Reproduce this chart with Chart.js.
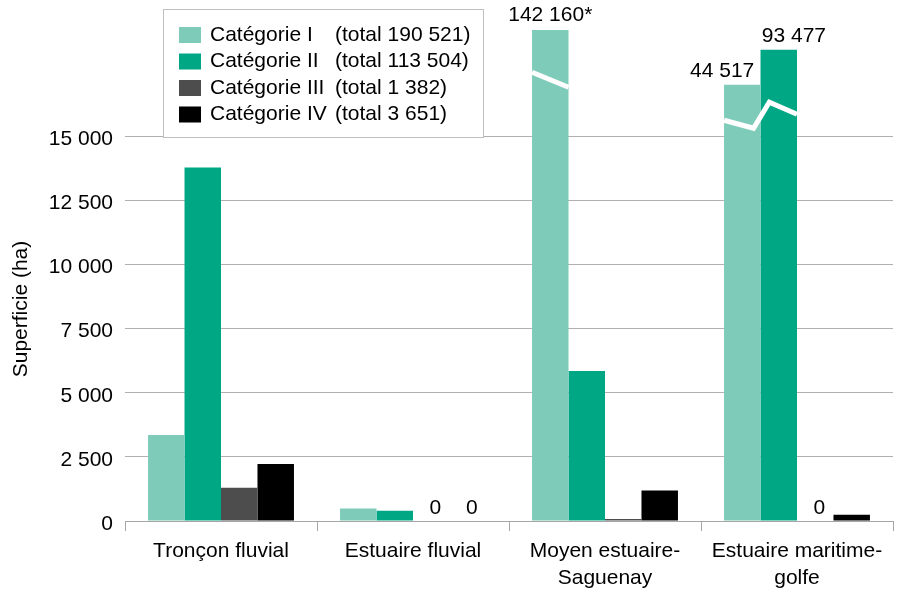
<!DOCTYPE html>
<html><head><meta charset="utf-8">
<script src="https://cdn.jsdelivr.net/npm/chart.js@4.4.1/dist/chart.umd.min.js"></script>
<style>html,body{margin:0;padding:0;background:#fff;}</style>
</head><body>
<canvas id="c" width="901" height="592"></canvas>
<script>
// ---- data ----
const categories = [['Tronçon fluvial'], ['Estuaire fluvial'], ['Moyen estuaire-', 'Saguenay'], ['Estuaire maritime-', 'golfe']];
const seriesNames = ['Catégorie I', 'Catégorie II', 'Catégorie III', 'Catégorie IV'];
const seriesTotals = ['(total 190 521)', '(total 113 504)', '(total 1 382)', '(total 3 651)'];
const catI = [3356, 488, 142160, 44517];
const catII = [13780, 400, 5847, 93477];
const catIII = [1300, 0, 82, 0];
const catIV = [2220, 0, 1190, 241];
const notesI = ['', '', '*', ''];
const notesII = ['', '', '', ''];
const notesIII = ['', '', '', ''];
const notesIV = ['', '', '', ''];
const yTicks = [0, 2500, 5000, 7500, 10000, 12500, 15000];
const yTitle = 'Superficie (ha)';
const colors = ['#7fcbb9', '#00a785', '#4d4d4d', '#000000'];

// ---- broken axis scale ----
const BREAK_AT = 15000, BREAK_K = 4240;
class BrokenLinearScale extends Chart.LinearScale {
  compress(v) { return v > BREAK_AT ? BREAK_AT + BREAK_K * Math.log10(v / BREAK_AT) : v; }
  getPixelForValue(v) { return super.getPixelForValue(this.compress(v)); }
}
BrokenLinearScale.id = 'brokenLinear';
BrokenLinearScale.defaults = Chart.LinearScale.defaults;
Chart.register(BrokenLinearScale);

const FONT = "'Liberation Sans', Arial, sans-serif";
const FS = 21;
Chart.defaults.font.family = FONT;
Chart.defaults.color = '#000';

const fmt = v => String(v).replace(/\B(?=(\d{3})+(?!\d))/g, ' ');

const seriesData = [catI, catII, catIII, catIV];
const seriesNotes = [notesI, notesII, notesIII, notesIV];

// break shapes by number of broken bars in a category: [x in bar widths from first broken bar's left, dy from break pixel]
const breakShapes = {
  1: [[0, -64], [1, -49]],
  2: [[0, -16], [0.81, -8], [1.24, -34], [2, -22]]
};

const overlayPlugin = {
  id: 'overlay',
  afterDatasetsDraw(chart) {
    const ctx = chart.ctx;
    const yScale = chart.scales.y;
    const yBreak = yScale.getPixelForValue(BREAK_AT);
    // break lines
    for (let j = 0; j < categories.length; j++) {
      const broken = [];
      chart.data.datasets.forEach((ds, i) => {
        if (ds.data[j] > BREAK_AT) broken.push(chart.getDatasetMeta(i).data[j]);
      });
      if (!broken.length) continue;
      const shape = breakShapes[broken.length];
      const b0 = broken[0];
      const left = b0.x - b0.width / 2;
      ctx.save();
      ctx.strokeStyle = '#ffffff';
      ctx.lineWidth = 5;
      ctx.lineJoin = 'miter';
      ctx.beginPath();
      shape.forEach(([fx, dy], k) => {
        const px = left + fx * b0.width, py = yBreak + dy;
        if (k === 0) ctx.moveTo(px, py); else ctx.lineTo(px, py);
      });
      ctx.stroke();
      ctx.restore();
    }
    // value labels
    ctx.save();
    ctx.font = FS + 'px ' + FONT;
    ctx.fillStyle = '#000';
    ctx.textBaseline = 'middle';
    for (let j = 0; j < categories.length; j++) {
      const brokenIdx = [];
      chart.data.datasets.forEach((ds, i) => { if (ds.data[j] > BREAK_AT) brokenIdx.push(i); });
      chart.data.datasets.forEach((ds, i) => {
        const v = ds.data[j];
        const bar = chart.getDatasetMeta(i).data[j];
        if (v === 0) {
          ctx.textAlign = 'center';
          ctx.fillText('0', bar.x + 4, bar.base - 13);
        } else if (v > BREAK_AT) {
          const txt = fmt(v) + seriesNotes[i][j];
          if (brokenIdx.length > 1) {
            if (i === brokenIdx[0]) { ctx.textAlign = 'right'; ctx.fillText(txt, bar.x + 12, bar.y - 14); }
            else { ctx.textAlign = 'left'; ctx.fillText(txt, bar.x - 17, bar.y - 14); }
          } else {
            ctx.textAlign = 'center';
            ctx.fillText(txt, bar.x, bar.y - 15);
          }
        }
      });
    }
    ctx.restore();
  },
  afterDraw(chart) {
    const ctx = chart.ctx;
    // y title
    ctx.save();
    ctx.font = FS + 'px ' + FONT;
    ctx.fillStyle = '#000';
    ctx.translate(21, 309);
    ctx.rotate(-Math.PI / 2);
    ctx.textAlign = 'center';
    ctx.textBaseline = 'middle';
    ctx.fillText(yTitle, 0, 0);
    ctx.restore();
    // legend box
    ctx.save();
    ctx.fillStyle = '#ffffff';
    ctx.fillRect(163, 9, 320, 128);
    ctx.strokeStyle = '#bfbfbf';
    ctx.lineWidth = 1;
    ctx.strokeRect(163.5, 9.5, 320, 128);
    ctx.font = FS + 'px ' + FONT;
    ctx.textBaseline = 'middle';
    ctx.textAlign = 'left';
    chart.data.datasets.forEach((ds, i) => {
      const cy = 35 + i * 26.5;
      ctx.fillStyle = ds.backgroundColor;
      ctx.fillRect(179, cy - 8, 22, 16);
      ctx.fillStyle = '#000';
      ctx.fillText(seriesNames[i], 210, cy);
      ctx.fillText(seriesTotals[i], 335, cy);
    });
    ctx.restore();
  }
};

new Chart(document.getElementById('c'), {
  type: 'bar',
  data: {
    labels: categories,
    datasets: seriesData.map((d, i) => ({
      label: seriesNames[i],
      data: d,
      backgroundColor: colors[i],
      borderWidth: 0,
      categoryPercentage: 0.76,
      barPercentage: 1
    }))
  },
  options: {
    responsive: false,
    animation: false,
    devicePixelRatio: 1,
    layout: { padding: { top: 8, right: 8, left: 0, bottom: 0 } },
    plugins: { legend: { display: false }, tooltip: { enabled: false } },
    scales: {
      x: {
        afterFit(s) { s.height = 71; s.paddingLeft = 0; s.paddingRight = 0; },
        ticks: { font: { size: FS, lineHeight: 1.27 }, color: '#000', padding: 7, maxRotation: 0, autoSkip: false },
        grid: { offset: true, drawOnChartArea: false, drawTicks: true, tickLength: 10, color: '#a6a6a6' },
        border: { display: true, color: '#a6a6a6', width: 1 }
      },
      y: {
        type: 'brokenLinear',
        min: 0, max: 20000,
        afterFit(s) { s.width = 125; s.paddingTop = 0; s.paddingBottom = 0; },
        afterBuildTicks(s) { s.ticks = yTicks.map(v => ({ value: v })); },
        ticks: { font: { size: FS }, color: '#000', padding: 12, labelOffset: 3, callback: v => fmt(v) },
        grid: { color: '#b0b0b0', drawTicks: false, lineWidth: 1 },
        border: { display: false }
      }
    }
  },
  plugins: [overlayPlugin]
});
</script>
</body></html>
